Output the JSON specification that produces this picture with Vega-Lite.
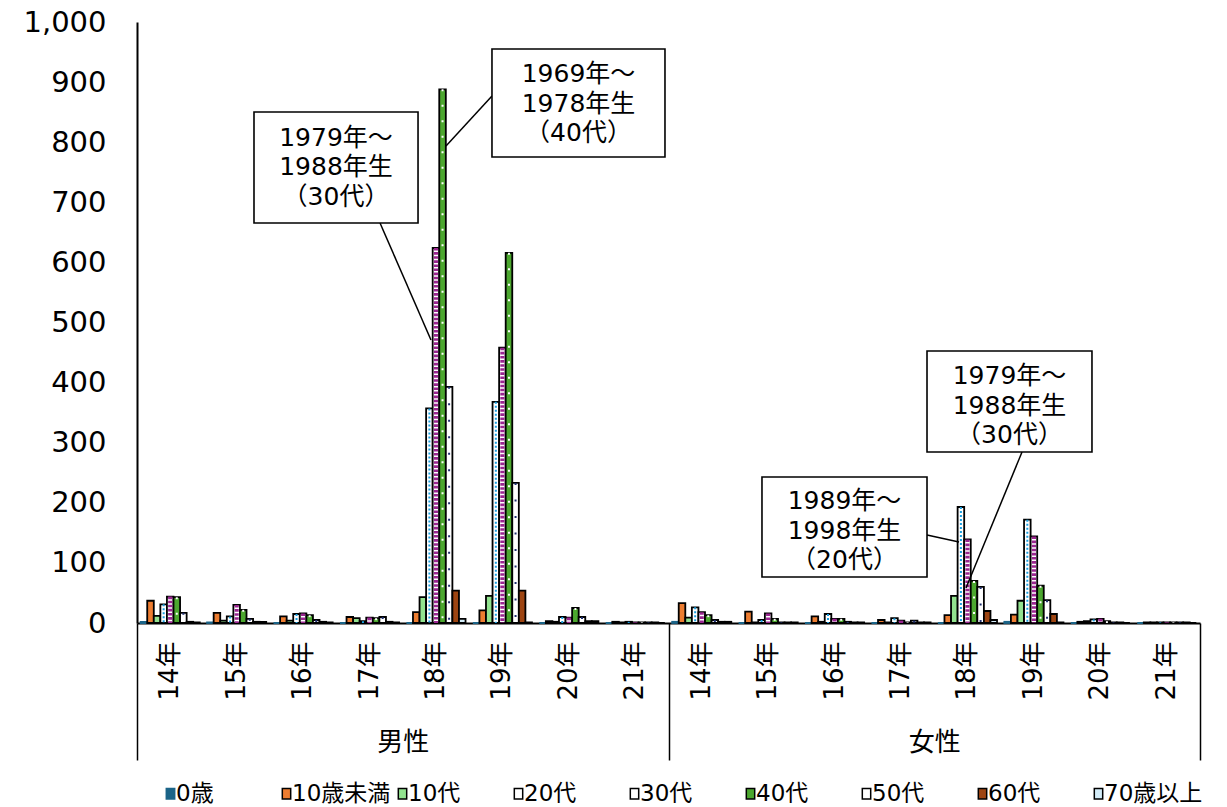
{
  "$schema": "https://vega.github.io/schema/vega-lite/v6.json",
  "width": 1063,
  "height": 601,
  "autosize": {"type": "none"},
  "padding": {"left": 137, "top": 22, "right": 27, "bottom": 184},
  "background": "white",
  "datasets": {
    "counts": [
      {"sex": "男性", "year": "14年", "key": "男性 14年", "0歳": 2, "10歳未満": 37, "10代": 12, "20代": 31, "30代": 44, "40代": 43, "50代": 17, "60代": 2, "70歳以上": 1},
      {"sex": "男性", "year": "15年", "key": "男性 15年", "0歳": 1, "10歳未満": 17, "10代": 4, "20代": 11, "30代": 30, "40代": 22, "50代": 7, "60代": 2, "70歳以上": 2},
      {"sex": "男性", "year": "16年", "key": "男性 16年", "0歳": 0, "10歳未満": 11, "10代": 4, "20代": 15, "30代": 16, "40代": 13, "50代": 5, "60代": 2, "70歳以上": 1},
      {"sex": "男性", "year": "17年", "key": "男性 17年", "0歳": 0, "10歳未満": 10, "10代": 8, "20代": 3, "30代": 9, "40代": 8, "50代": 10, "60代": 2, "70歳以上": 1},
      {"sex": "男性", "year": "18年", "key": "男性 18年", "0歳": 0, "10歳未満": 18, "10代": 43, "20代": 357, "30代": 624, "40代": 888, "50代": 393, "60代": 54, "70歳以上": 7},
      {"sex": "男性", "year": "19年", "key": "男性 19年", "0歳": 0, "10歳未満": 21, "10代": 45, "20代": 368, "30代": 458, "40代": 616, "50代": 233, "60代": 54, "70歳以上": 1},
      {"sex": "男性", "year": "20年", "key": "男性 20年", "0歳": 0, "10歳未満": 3, "10代": 2, "20代": 10, "30代": 9, "40代": 25, "50代": 10, "60代": 3, "70歳以上": 3},
      {"sex": "男性", "year": "21年", "key": "男性 21年", "0歳": 0, "10歳未満": 2, "10代": 1, "20代": 2, "30代": 1, "40代": 1, "50代": 1, "60代": 1, "70歳以上": 0},
      {"sex": "女性", "year": "14年", "key": "女性 14年", "0歳": 2, "10歳未満": 33, "10代": 9, "20代": 26, "30代": 18, "40代": 13, "50代": 5, "60代": 2, "70歳以上": 2},
      {"sex": "女性", "year": "15年", "key": "女性 15年", "0歳": 0, "10歳未満": 19, "10代": 1, "20代": 5, "30代": 16, "40代": 7, "50代": 1, "60代": 1, "70歳以上": 1},
      {"sex": "女性", "year": "16年", "key": "女性 16年", "0歳": 0, "10歳未満": 11, "10代": 2, "20代": 15, "30代": 7, "40代": 7, "50代": 2, "60代": 1, "70歳以上": 1},
      {"sex": "女性", "year": "17年", "key": "女性 17年", "0歳": 0, "10歳未満": 5, "10代": 1, "20代": 8, "30代": 4, "40代": 1, "50代": 4, "60代": 1, "70歳以上": 1},
      {"sex": "女性", "year": "18年", "key": "女性 18年", "0歳": 0, "10歳未満": 13, "10代": 45, "20代": 193, "30代": 139, "40代": 70, "50代": 60, "60代": 20, "70歳以上": 5},
      {"sex": "女性", "year": "19年", "key": "女性 19年", "0歳": 2, "10歳未満": 14, "10代": 37, "20代": 172, "30代": 144, "40代": 62, "50代": 38, "60代": 15, "70歳以上": 1},
      {"sex": "女性", "year": "20年", "key": "女性 20年", "0歳": 0, "10歳未満": 2, "10代": 3, "20代": 6, "30代": 7, "40代": 3, "50代": 1, "60代": 1, "70歳以上": 0},
      {"sex": "女性", "year": "21年", "key": "女性 21年", "0歳": 0, "10歳未満": 1, "10代": 1, "20代": 1, "30代": 1, "40代": 1, "50代": 1, "60代": 1, "70歳以上": 0}
    ],
    "groups": [{"sex": "男性"}, {"sex": "女性"}],
    "notes": [
      {"label": "1979年～\n1988年生\n（30代）", "bx1": 1.761, "bx2": 4.23, "by1": 665.6, "by2": 850.2, "tx": 2.995, "ty": 758.7, "lx1": 3.658, "ly1": 665.6, "lx2": 4.425, "ly2": 470.9},
      {"label": "1969年～\n1978年生\n（40代）", "bx1": 5.343, "bx2": 7.947, "by1": 775.4, "by2": 955.1, "tx": 6.645, "ty": 863.6, "lx1": 5.343, "ly1": 876.9, "lx2": 4.651, "ly2": 793.7},
      {"label": "1979年～\n1988年生\n（30代）", "bx1": 11.891, "bx2": 14.374, "by1": 284.5, "by2": 452.6, "tx": 13.133, "ty": 361.1, "lx1": 13.321, "ly1": 284.5, "lx2": 12.478, "ly2": 58.2},
      {"label": "1989年～\n1998年生\n（20代）", "bx1": 9.407, "bx2": 11.891, "by1": 76.5, "by2": 242.9, "tx": 10.649, "ty": 153.1, "lx1": 11.891, "ly1": 146.4, "lx2": 12.373, "ly2": 134.8}
    ]
  },
  "layer": [
    {
      "data": {"name": "counts"},
      "transform": [
        {"fold": ["0歳", "10歳未満", "10代", "20代", "30代", "40代", "50代", "60代", "70歳以上"], "as": ["age", "n"]}
      ],
      "encoding": {
        "x": {
          "field": "key",
          "type": "nominal",
          "sort": null,
          "scale": {"paddingInner": 0.11, "paddingOuter": 0.055},
          "axis": {
            "orient": "bottom",
            "title": null,
            "labelExpr": "split(datum.label, ' ')[1]",
            "labelAngle": -90,
            "labelFontSize": 26,
            "labelPadding": 18,
            "labelColor": "black",
            "ticks": false,
            "domain": true,
            "domainColor": "black",
            "domainWidth": 2,
            "grid": false
          }
        },
        "xOffset": {
          "field": "age",
          "type": "nominal",
          "scale": {"domain": ["0歳", "10歳未満", "10代", "20代", "30代", "40代", "50代", "60代", "70歳以上"]}
        },
        "y": {
          "field": "n",
          "type": "quantitative",
          "scale": {"domain": [0, 1000], "nice": false},
          "axis": {"title": null, "values": [0, 100, 200, 300, 400, 500, 600, 700, 800, 900, 1000], "format": ",d"}
        },
        "y2": {"datum": 0}
      },
      "layer": [
        {
          "mark": {"type": "bar", "strokeWidth": 1.8},
          "encoding": {
            "fill": {
              "field": "age",
              "type": "nominal",
              "scale": {
                "domain": ["0歳", "10歳未満", "10代", "20代", "30代", "40代", "50代", "60代", "70歳以上"],
                "range": ["#1b6488", "#ed7d31", "#92e38f", "#ffffff", "#ffffff", "#4ca72f", "#ffffff", "#9e4512", "#d3ecf8"]
              },
              "legend": {
                "orient": "none",
                "legendX": 22,
                "legendY": 760,
                "direction": "horizontal",
                "columns": 9,
                "title": null,
                "padding": 0,
                "gridAlign": "all",
                "columnPadding": -3,
                "labelFontSize": 23,
                "labelLimit": 200,
                "labelColor": "black",
                "labelOffset": -6,
                "symbolType": "M-0.8,-1H0.8V1H-0.8Z",
                "symbolSize": 110,
                "symbolStrokeWidth": 1.5,
                "symbolStrokeColor": "black",
                "encode": {
                  "symbols": {
                    "update": {
                      "stroke": {"signal": "datum.value === '0歳' ? '#1b6488' : 'black'"},
                      "strokeWidth": {"value": 1.5}
                    }
                  }
                }
              }
            },
            "stroke": {
              "condition": {"test": "datum.age === '0歳'", "value": "#1b6488"},
              "value": "black"
            }
          }
        },
        {
          "transform": [{"filter": "datum.age === '20代'"}],
          "mark": {"type": "rule", "color": "#1a9fe0", "strokeWidth": 2, "strokeDash": [2, 2]}
        },
        {
          "transform": [{"filter": "datum.age === '30代'"}],
          "mark": {"type": "rule", "color": "#9a2590", "strokeWidth": 4.2, "strokeDash": [2.6, 1.5]}
        },
        {
          "transform": [{"filter": "datum.age === '40代'"}],
          "mark": {"type": "rule", "color": "#ffffff", "strokeWidth": 2, "strokeDash": [2, 13.5]}
        },
        {
          "transform": [{"filter": "datum.age === '50代'"}],
          "mark": {"type": "rule", "color": "#1f2f6f", "strokeWidth": 2, "strokeDash": [2, 14.5]}
        }
      ]
    },
    {
      "data": {"name": "notes"},
      "layer": [
        {
          "mark": {"type": "rule", "color": "black", "strokeWidth": 1.5},
          "encoding": {
            "x": {"field": "lx1", "type": "quantitative", "scale": {"domain": [0, 16], "nice": false, "zero": false}, "axis": null},
            "x2": {"field": "lx2"},
            "y": {"field": "ly1", "type": "quantitative", "scale": {"domain": [0, 1000], "nice": false}, "axis": {"title": null, "values": [0, 100, 200, 300, 400, 500, 600, 700, 800, 900, 1000], "format": ",d"}},
            "y2": {"field": "ly2"}
          }
        },
        {
          "mark": {"type": "rect", "fill": "white", "stroke": "black", "strokeWidth": 1.6},
          "encoding": {
            "x": {"field": "bx1", "type": "quantitative", "scale": {"domain": [0, 16], "nice": false, "zero": false}, "axis": null},
            "x2": {"field": "bx2"},
            "y": {"field": "by1", "type": "quantitative", "scale": {"domain": [0, 1000], "nice": false}, "axis": {"title": null, "values": [0, 100, 200, 300, 400, 500, 600, 700, 800, 900, 1000], "format": ",d"}},
            "y2": {"field": "by2"}
          }
        },
        {
          "mark": {"type": "text", "fontSize": 25, "lineHeight": 29.5, "lineBreak": "\n", "align": "center", "baseline": "middle", "dy": -29.5, "color": "black"},
          "encoding": {
            "x": {"field": "tx", "type": "quantitative", "scale": {"domain": [0, 16], "nice": false, "zero": false}, "axis": null},
            "y": {"field": "ty", "type": "quantitative", "scale": {"domain": [0, 1000], "nice": false}, "axis": {"title": null, "values": [0, 100, 200, 300, 400, 500, 600, 700, 800, 900, 1000], "format": ",d"}},
            "text": {"field": "label", "type": "nominal"}
          }
        }
      ]
    },
    {
      "data": {"name": "groups"},
      "mark": {"type": "point", "opacity": 0},
      "encoding": {
        "x": {
          "field": "sex",
          "type": "nominal",
          "sort": null,
          "scale": {"paddingInner": 0, "paddingOuter": 0},
          "axis": {
            "orient": "bottom",
            "title": null,
            "domain": false,
            "ticks": true,
            "tickBand": "extent",
            "tickSize": 137,
            "tickWidth": 1.5,
            "tickColor": "black",
            "labelAngle": 0,
            "labelBaseline": "middle",
            "labelPadding": -18,
            "labelFontSize": 26,
            "labelColor": "black",
            "grid": false
          }
        }
      }
    }
  ],
  "resolve": {"scale": {"x": "independent"}, "axis": {"x": "independent"}},
  "config": {
    "font": "DejaVu Sans, Noto Sans CJK JP",
    "view": {"stroke": null},
    "axis": {"labelFont": "DejaVu Sans, Noto Sans CJK JP"},
    "axisY": {
      "labelFontSize": 29,
      "labelPadding": 31,
      "labelColor": "black",
      "ticks": false,
      "tickSize": 0,
      "domain": true,
      "domainColor": "black",
      "domainWidth": 2,
      "grid": false
    },
    "legend": {"labelFont": "DejaVu Sans, Noto Sans CJK JP"}
  }
}
